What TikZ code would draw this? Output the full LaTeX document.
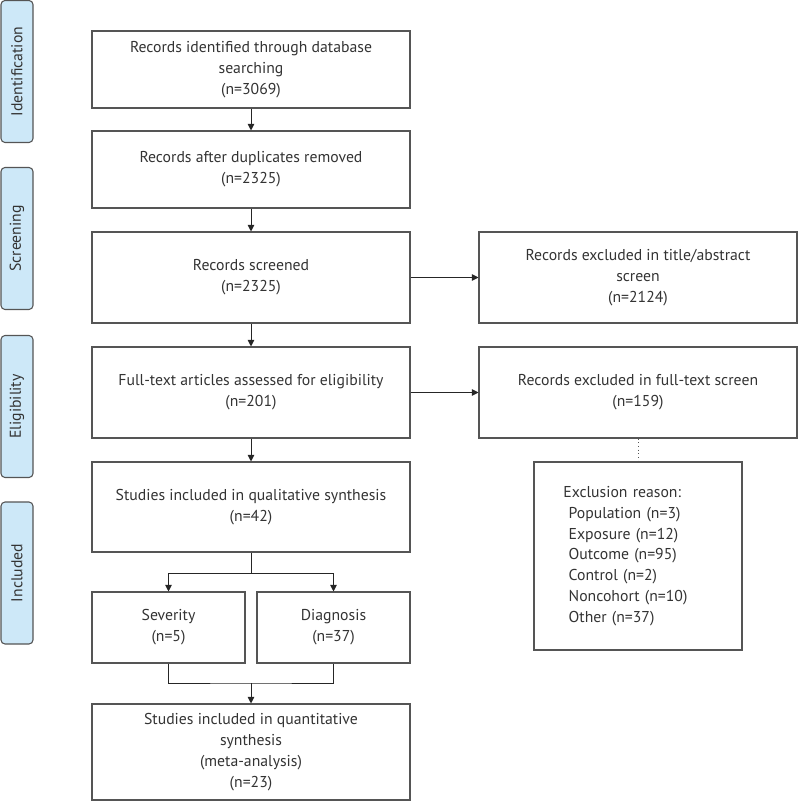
\documentclass[tikz,border=0pt]{standalone}
\usepackage{fontspec}
\setmainfont{PT Sans}
\usepackage{xcolor}
\usepackage{tikz}
\usetikzlibrary{arrows.meta,positioning,calc}

\definecolor{stagefill}{HTML}{CDE8F8}
\definecolor{boxline}{HTML}{555555}
\definecolor{inktext}{HTML}{333333}

\begin{document}
\begin{tikzpicture}[
  x=0.75pt, y=-0.75pt,
  every node/.style={font=\fontsize{11.8}{15.6}\selectfont, text=inktext},
  flowbox/.style={draw=boxline, line width=0.8pt, align=center, inner sep=4pt},
  widebox/.style={flowbox, minimum width=238.5pt},
  halfbox/.style={flowbox, minimum width=114.75pt, minimum height=53.25pt},
  stage/.style={draw=boxline, fill=stagefill, rounded corners=3pt, line width=0.8pt,
    rotate=90, minimum width=106.5pt, minimum height=24pt, inner sep=0pt},
  arr/.style={-{Triangle[length=5pt,width=5pt]}, line width=0.75pt, draw=black!85},
  link/.style={line width=0.75pt, draw=black!85}
]
\useasboundingbox (0,0) rectangle (798,812);

% stage labels
\node[stage] (sIdent) at (17,71.5) {Identification};
\node[stage] (sScreen) at (17,238.5) {Screening};
\node[stage] (sElig) at (17,406.5) {Eligibility};
\node[stage] (sIncl) at (17,573) {Included};

% main column
\node[widebox, minimum height=57.75pt] (ident) at (251,69.5)
  {Records identified through database\\searching\\(n=3069)};
\node[widebox, minimum height=57.75pt] (dedup) at (251,169.5)
  {Records after duplicates removed\\(n=2325)};
\node[widebox, minimum height=68.25pt] (screen) at (251,277.5)
  {Records screened\\(n=2325)};
\node[widebox, minimum height=68.25pt] (full) at (251,392.5)
  {Full-text articles assessed for eligibility\\(n=201)};
\node[widebox, minimum height=67.5pt] (qual) at (251,507)
  {Studies included in qualitative synthesis\\(n=42)};
\node[halfbox] (sev) at (168.5,627.5) {Severity\\(n=5)};
\node[halfbox] (diag) at (333.5,627.5) {Diagnosis\\(n=37)};
\node[widebox, minimum height=72pt] (quant) at (251,752)
  {Studies included in quantitative\\synthesis\\(meta-analysis)\\(n=23)};

% excluded column
\node[widebox, minimum height=68.25pt] (exScreen) at (638,277.5)
  {Records excluded in title/abstract\\screen\\(n=2124)};
\node[widebox, minimum height=68.25pt] (exFull) at (638,392.5)
  {Records excluded in full-text screen\\(n=159)};
\node[flowbox, align=left, minimum width=156pt, minimum height=141pt,
  text width=112pt, inner xsep=22pt] (reason) at (638,556)
  {Exclusion reason:\\
   \hspace*{4pt}Population (n=3)\\
   \hspace*{4pt}Exposure (n=12)\\
   \hspace*{4pt}Outcome (n=95)\\
   \hspace*{4pt}Control (n=2)\\
   \hspace*{4pt}Noncohort (n=10)\\
   \hspace*{4pt}Other (n=37)};

% connectors
\draw[arr] (ident.south) -- (dedup.north);
\draw[arr] (dedup.south) -- (screen.north);
\draw[arr] (screen.south) -- (full.north);
\draw[arr] (full.south) -- (qual.north);
\draw[arr] (screen.east) -- (exScreen.west);
\draw[arr] (full.east) -- (exFull.west);
\draw[boxline, line width=0.75pt, dotted] (exFull.south) -- (reason.north);

\coordinate (split) at (251,573);
\coordinate (merge) at (251,683);
\draw[link] (qual.south) -- (split);
\draw[arr] (split) -| (sev.north);
\draw[arr] (split) -| (diag.north);
\draw[link] (sev.south) |- (merge) -| (diag.south);
\draw[arr] (merge) -- (quant.north);
\end{tikzpicture}
\end{document}
